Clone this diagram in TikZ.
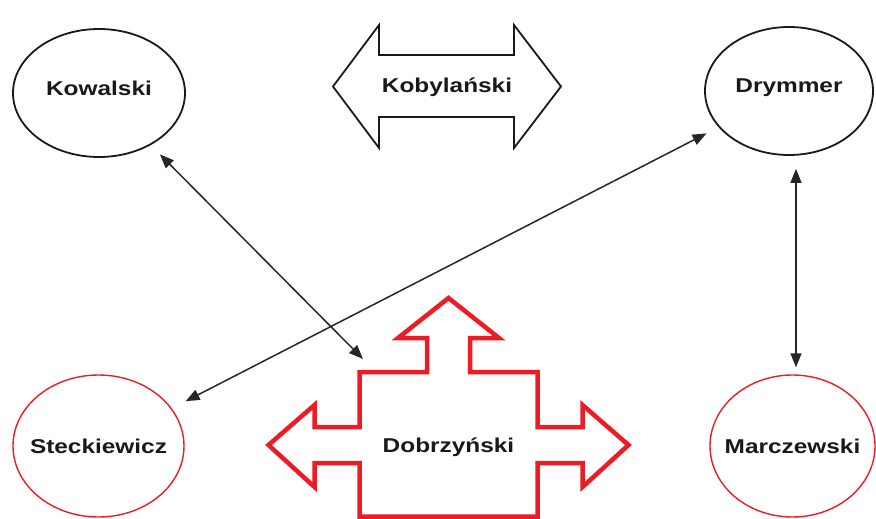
\documentclass[tikz,border=0pt]{standalone}
\usepackage{fontspec}
\setmainfont{Liberation Sans}[FakeStretch=1.22]
\usetikzlibrary{shapes.geometric,arrows.meta}
\definecolor{dred}{RGB}{237,28,36}
\begin{document}
\begin{tikzpicture}[x=1pt,y=-1pt,
  lab/.style={font=\fontsize{20}{24}\selectfont\bfseries, text=black!90},
  person/.style={ellipse, draw=black!90, line width=1.8pt, inner sep=0pt},
  redperson/.style={person, draw=dred, line width=1.4pt},
  biarrow/.style={{Triangle[length=14pt,width=11pt]}-{Triangle[length=14pt,width=11pt]}, line width=1.5pt, draw=black!85},
  bigarrow/.style={draw=black!90, line width=1.8pt, line join=miter, fill=white},
  redshape/.style={draw=dred, line width=4.5pt, line join=miter, fill=white}
]
\useasboundingbox (0,0) rectangle (876,519);

% Kobylanski double arrow
\draw[bigarrow] (333,86.5) -- (379,25) -- (379,55) -- (514,55) -- (514,25) -- (561,86.5)
  -- (514,148) -- (514,117) -- (379,117) -- (379,148) -- cycle;
\node[lab] (kob) at (447,87) {Kobylański};

% Dobrzynski four-way arrow
\draw[redshape] (448.5,298) -- (499,338) -- (470,338) -- (470,372) -- (537.5,372) -- (537.5,427)
  -- (582.5,427) -- (582.5,405) -- (628.5,445) -- (582.5,487) -- (582.5,463) -- (537.5,463)
  -- (537.5,516.5) -- (359.5,516.5) -- (359.5,463) -- (314.5,463) -- (314.5,487) -- (268.5,445)
  -- (314.5,405) -- (314.5,427) -- (359.5,427) -- (359.5,372) -- (427,372) -- (427,338)
  -- (398,338) -- cycle;
\node[lab] (dob) at (448.5,447) {Dobrzyński};
\coordinate (dobtip) at (363,359);

% persons
\node[person, minimum width=172pt, minimum height=128pt,
  label={[lab,yshift=5pt]center:Kowalski}] (kow) at (99,93) {};
\node[person, minimum width=168pt, minimum height=128pt,
  label={[lab,yshift=3pt]center:Drymmer}] (dry) at (789,91) {};
\node[redperson, minimum width=171pt, minimum height=142pt,
  label={[lab]center:Steckiewicz}] (ste) at (98.5,446) {};
\node[redperson, minimum width=165pt, minimum height=142pt,
  label={[lab]center:Marczewski}] (mar) at (792.5,446) {};

% connectors
\coordinate (vx) at (796,0);
\draw[biarrow, shorten <=13pt] (kow) -- (dobtip);
\draw[biarrow, shorten <=13.5pt, shorten >=15.5pt] (dry) -- (ste);
\draw[biarrow, shorten <=13pt, shorten >=7pt] (dry.south -| vx) -- (mar.north -| vx);
\end{tikzpicture}
\end{document}
